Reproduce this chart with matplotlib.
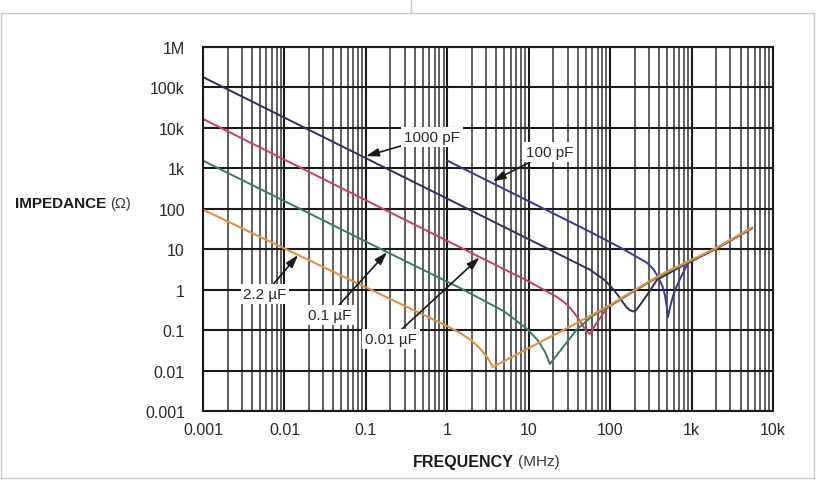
import matplotlib
matplotlib.use("Agg")
import matplotlib.pyplot as plt
from matplotlib.ticker import LogLocator, NullFormatter, FixedLocator, FixedFormatter
from matplotlib.patches import Rectangle
from matplotlib.lines import Line2D
from matplotlib.transforms import offset_copy

plt.rcParams["font.family"] = ["Liberation Sans", "DejaVu Sans"]

# impedance curves: frequency (MHz) / |Z| (ohm)
F_2U2 = [0.001, 0.0147, 1.0, 1.43, 2.0, 2.52, 3.1, 3.64, 10, 39.2, 100, 200, 409, 1000, 1941, 5520]
Z_2U2 = [95, 7.2, 0.125, 0.085, 0.055, 0.035, 0.021, 0.0122, 0.036, 0.15, 0.42, 0.98, 2.3, 5.5, 10.4, 34.5]

F_0U1 = [0.001, 0.182, 1.43, 5, 9.53, 13, 16, 18.2, 26.4, 39.2, 60, 100, 200, 409, 1000, 1941, 5520]
Z_0U1 = [1550, 8.5, 1.1, 0.29, 0.107, 0.055, 0.028, 0.0145, 0.038, 0.105, 0.22, 0.40, 0.95, 2.2, 5.3, 10.1, 33.5]

F_0U01 = [0.001, 4.83, 10, 22.2, 30, 36, 42.7, 50, 56.6, 65, 91.6, 100, 200, 409, 1000, 1941, 5520]
Z_0U01 = [16600, 3.3, 1.6, 0.66, 0.42, 0.27, 0.165, 0.10, 0.08, 0.13, 0.35, 0.40, 0.94, 2.2, 5.3, 10.0, 33]

F_1000P = [0.001, 40, 56.6, 86.5, 110, 125, 144, 160, 175, 190, 208, 233, 292, 376, 1000, 1941, 5520]
Z_1000P = [180000, 4.4, 3.1, 1.7, 1.0, 0.72, 0.48, 0.36, 0.31, 0.29, 0.31, 0.42, 0.8, 1.75, 5.2, 10.0, 33]

F_100P = [1.02, 56.6, 144, 220, 284, 340, 387, 440, 472, 495, 514, 550, 592, 650, 721, 900, 1941, 5520]
Z_100P = [1520, 27, 10.1, 6.2, 4.6, 3.2, 2.1, 1.2, 0.72, 0.38, 0.21, 0.40, 0.70, 1.15, 1.84, 4.5, 10.0, 33]

Y_TICKS = [1e-3, 1e-2, 1e-1, 1, 10, 100, 1e3, 1e4, 1e5, 1e6]
Y_LABELS = ["0.001", "0.01", "0.1", "1", "10", "100", "1k", "10k", "100k", "1M"]
X_TICKS = [1e-3, 1e-2, 1e-1, 1, 10, 100, 1e3, 1e4]
X_LABELS = ["0.001", "0.01", "0.1", "1", "10", "100", "1k", "10k"]

# (label, text position, arrow tip) in data units
NOTES = [
    ("1000 pF", (0.65, 5960), (0.1, 2000)),
    ("100 pF", (18.2, 2540), (3.6, 480)),
    ("2.2 µF", (0.00577, 0.78), (0.0147, 7.2)),
    ("0.1 µF", (0.0363, 0.237), (0.182, 8.5)),
    ("0.01 µF", (0.204, 0.060), (2.5, 6.3)),
]

fig = plt.figure(figsize=(8.16, 4.81), dpi=100)
ax = fig.add_axes([0.2488, 0.1435, 0.6985, 0.7567])
ax.set_xscale("log")
ax.set_yscale("log")
ax.set_xlim(1e-3, 1e4)
ax.set_ylim(1e-3, 1e6)

ax.xaxis.set_major_locator(FixedLocator(X_TICKS))
ax.xaxis.set_major_formatter(FixedFormatter(X_LABELS))
ax.xaxis.set_minor_locator(LogLocator(base=10, subs=range(2, 10), numticks=20))
ax.xaxis.set_minor_formatter(NullFormatter())
ax.yaxis.set_major_locator(FixedLocator(Y_TICKS))
ax.yaxis.set_major_formatter(FixedFormatter(Y_LABELS))
ax.yaxis.set_minor_locator(FixedLocator([]))

ax.set_axisbelow(True)
ax.grid(which="major", axis="both", color="#1a1a1a", lw=1.5)
ax.grid(which="minor", axis="x", color="#3c3c3c", lw=1.15)
ax.tick_params(which="both", length=0, labelsize=11.5, colors="#2a2a2a")
ax.tick_params(axis="y", pad=13)
ax.tick_params(axis="x", pad=8)
for s in ax.spines.values():
    s.set_linewidth(1.5)
    s.set_color("#1a1a1a")

ax.plot(F_1000P, Z_1000P, color="#2e3258", lw=1.4)
ax.plot(F_100P, Z_100P, color="#363a92", lw=1.4)
ax.plot(F_0U01, Z_0U01, color="#c8405a", lw=1.4)
ax.plot(F_0U1, Z_0U1, color="#3c7a62", lw=1.4)
ax.plot(F_2U2, Z_2U2, color="#e0923e", lw=1.5)

for label, xy_text, xy_tip in NOTES:
    ax.annotate(label, xy=xy_tip, xytext=xy_text, ha="center", va="center",
                fontsize=11, color="#2a2a2a", zorder=5,
                bbox=dict(fc="white", ec="none", pad=2),
                arrowprops=dict(arrowstyle="-|>,head_length=0.7,head_width=0.22",
                                color="#1a1a1a", lw=1.2, shrinkA=0, shrinkB=0))


def bold_then_plain(x, y, bold, plain, size):
    t = fig.text(x, y, bold, fontsize=size, fontweight="bold", ha="left", va="center",
                 color="#1a1a1a")
    fig.canvas.draw()
    bb = t.get_window_extent()
    fig.text((bb.x1 + 4) / fig.bbox.width, y, plain, fontsize=size - 0.5, ha="left",
             va="center", color="#3a3a3a")


bold_then_plain(15 / 816, 1 - 204 / 481, "IMPEDANCE", "(Ω)", 11)
bold_then_plain(413 / 816, 1 - 462 / 481, "FREQUENCY", "(MHz)", 11.5)

# thin panel frame of the source page
fig.patches.append(Rectangle((1 / 816, 2 / 481), 813 / 816, 465 / 481, transform=fig.transFigure,
                             fill=False, ec="#c8c8c8", lw=1.0))
fig.lines.append(Line2D([411 / 816, 411 / 816], [467 / 481, 1.0], transform=fig.transFigure,
                        color="#c8c8c8", lw=1.0))

fig.savefig("out.png", dpi=100, facecolor="white")
